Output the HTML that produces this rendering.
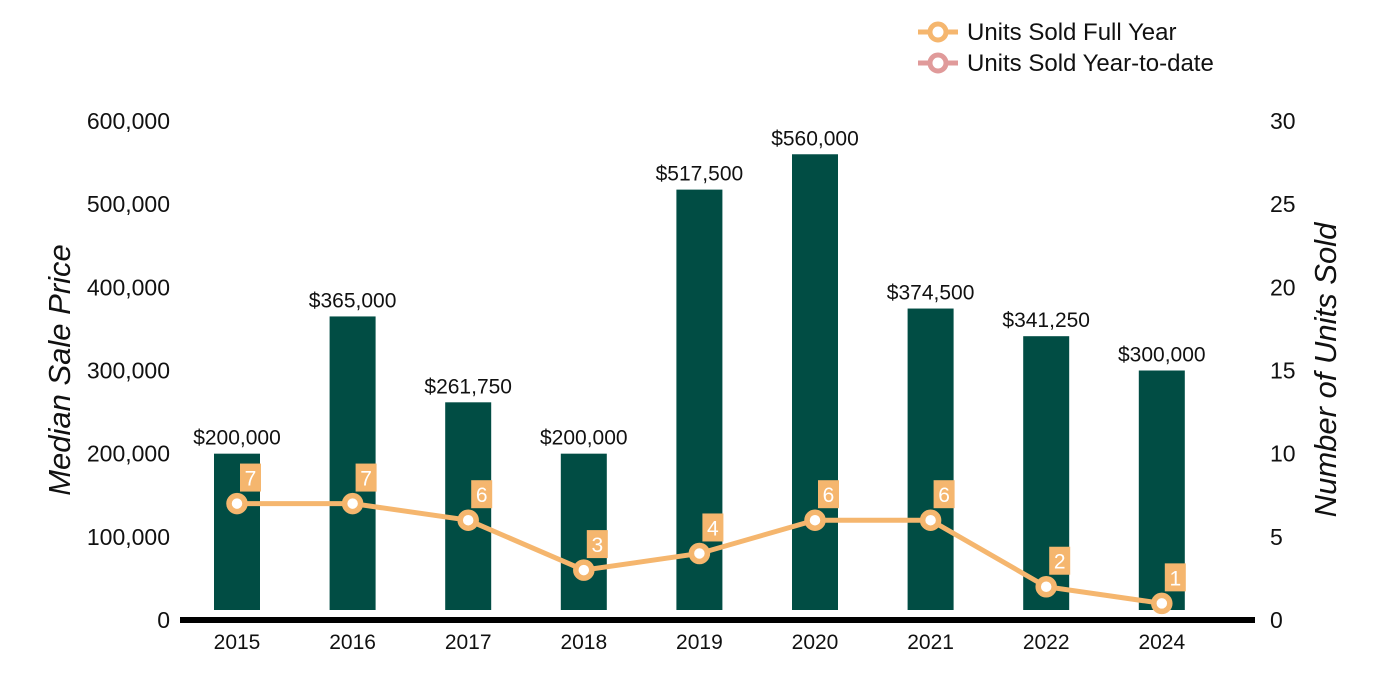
<!DOCTYPE html>
<html><head><meta charset="utf-8"><style>
body{margin:0;background:#fff;}
svg{display:block;font-family:"Liberation Sans",Arial,sans-serif;}
</style></head><body>
<svg id="chart" width="1400" height="700">
<g id="legend">
 <g>
  <line x1="918" y1="32" x2="958" y2="32" stroke="#F5B66E" stroke-width="5"/>
  <circle cx="938" cy="32" r="8" fill="#fff" stroke="#F5B66E" stroke-width="5"/>
  <text x="967" y="40" font-size="24" fill="#111">Units Sold Full Year</text>
 </g>
 <g>
  <line x1="918" y1="63" x2="958" y2="63" stroke="#E09A9A" stroke-width="5"/>
  <circle cx="938" cy="63" r="8" fill="#fff" stroke="#E09A9A" stroke-width="5"/>
  <text x="967" y="71" font-size="24" fill="#111">Units Sold Year-to-date</text>
 </g>
</g>
<text transform="translate(70,370) rotate(-90)" text-anchor="middle" font-size="31" font-style="italic" fill="#111">Median Sale Price</text>
<text transform="translate(1336,370) rotate(-90)" text-anchor="middle" font-size="31" font-style="italic" fill="#111">Number of Units Sold</text>
<g id="g"></g>
</svg>
<script>
const categories=["2015","2016","2017","2018","2019","2020","2021","2022","2024"];
const prices=[200000,365000,261750,200000,517500,560000,374500,341250,300000];
const priceLabels=["$200,000","$365,000","$261,750","$200,000","$517,500","$560,000","$374,500","$341,250","$300,000"];
const units=[7,7,6,3,4,6,6,2,1];
const leftTicks=[0,100000,200000,300000,400000,500000,600000];
const rightTicks=[0,5,10,15,20,25,30];
const NS="http://www.w3.org/2000/svg";
const g=document.getElementById('g');
const y0=620,yTop=121;
const yL=v=>y0-v/600000*(y0-yTop);
const yR=v=>y0-v/30*(y0-yTop);
const xC=i=>237+i*115.6;
function mk(t,a,p){const e=document.createElementNS(NS,t);for(const k in a)e.setAttribute(k,a[k]);(p||g).appendChild(e);return e;}
leftTicks.forEach(v=>{const t=mk('text',{x:170,y:yL(v)+8,'text-anchor':'end','font-size':23,fill:'#111'});t.textContent=v.toLocaleString('en-US');

});
rightTicks.forEach(v=>{const t=mk('text',{x:1270,y:yR(v)+8,'font-size':23,fill:'#111'});t.textContent=v;

});
categories.forEach((c,i)=>{
 const b=mk('rect',{x:xC(i)-23,y:yL(prices[i]),width:46,height:Math.max(0,610-yL(prices[i])),fill:'#014D44'});
 
 
 const l=mk('text',{x:xC(i),y:yL(prices[i])-9,'text-anchor':'middle','font-size':21,fill:'#111'});l.textContent=priceLabels[i];
 
 
 const x=mk('text',{x:xC(i),y:649,'text-anchor':'middle','font-size':21,fill:'#111'});x.textContent=c;
 
 
});
const ax=mk('line',{x1:180,y1:620,x2:1255,y2:620,stroke:'#000','stroke-width':6});


const pl=mk('polyline',{points:units.map((u,i)=>xC(i)+','+yR(u)).join(' '),fill:'none',stroke:'#F5B66E','stroke-width':5});


units.forEach((u,i)=>{
 const bx=mk('rect',{x:xC(i)+3,y:yR(u)-40,width:21,height:28,fill:'#F5B66E'});
 
 
 const t=mk('text',{x:xC(i)+13.5,y:yR(u)-18,'text-anchor':'middle','font-size':21,fill:'#fff'});t.textContent=u;
 
 
 const c=mk('circle',{cx:xC(i),cy:yR(u),r:8,fill:'#fff',stroke:'#F5B66E','stroke-width':5.5});
 
 
});
</script>
</body></html>
